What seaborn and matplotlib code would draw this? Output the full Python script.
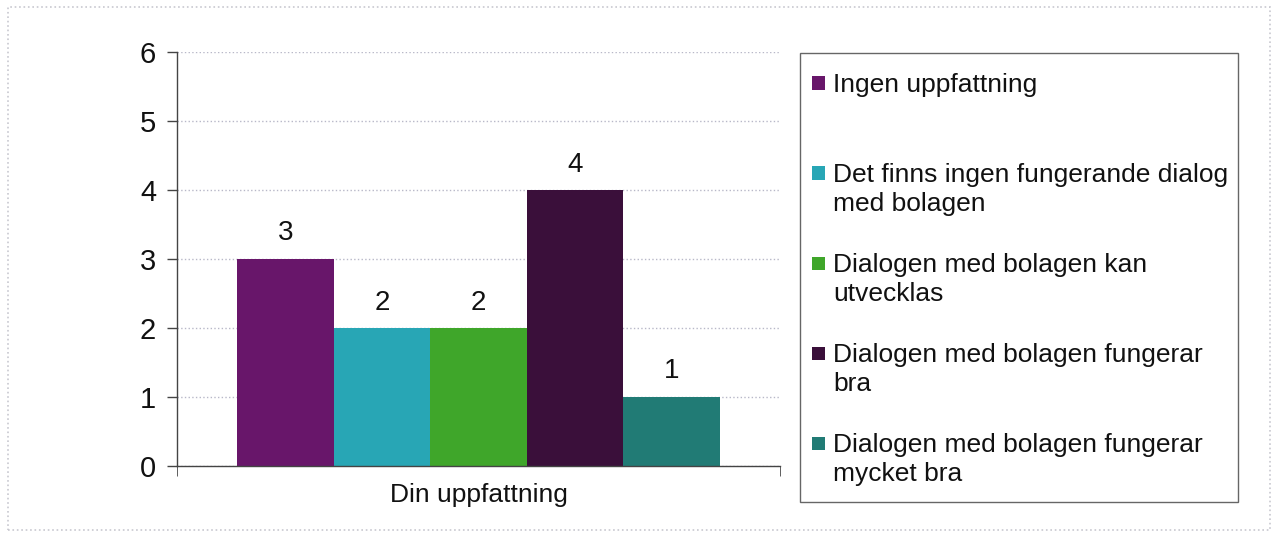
import pandas as pd
import matplotlib.pyplot as plt
import matplotlib.patches as mpatches
import seaborn as sns

# data
question = ['Din uppfattning']
answers = [
    'Ingen uppfattning',
    'Det finns ingen fungerande dialog\nmed bolagen',
    'Dialogen med bolagen kan\nutvecklas',
    'Dialogen med bolagen fungerar\nbra',
    'Dialogen med bolagen fungerar\nmycket bra',
]
counts = [3, 2, 2, 4, 1]
colors = ['#68166a', '#28a6b5', '#3fa62a', '#3a0f3a', '#217b75']
y_ticks = [0, 1, 2, 3, 4, 5, 6]

W, H = 1277, 537


def draw_legend(fig):
    """ Legend drawn by hand so every entry sits on the same spacing, like the original. """
    fig.patches.append(mpatches.Rectangle((800 / W, 1 - 502 / H), 438 / W, 449 / H,
                                          transform=fig.transFigure, fill=False,
                                          edgecolor='#666666', linewidth=1))
    top, step, sq = 83, 90, 13
    for i, (lab, col) in enumerate(zip(answers, colors)):
        yc = top + i * step
        fig.patches.append(mpatches.Rectangle((812 / W, 1 - (yc + sq / 2) / H), sq / W, sq / H,
                                              transform=fig.transFigure, facecolor=col,
                                              edgecolor='none'))
        fig.text(833 / W, 1 - (yc - 10) / H, lab, fontsize=19, va='top', ha='left',
                 color='#111111', linespacing=1.28)


def plot_answers(df):
    """ Grouped bar chart with value labels and a framed legend on the right. """
    sns.set_style('white')
    plt.rcParams['font.family'] = ['Liberation Sans', 'DejaVu Sans']

    fig = plt.figure(figsize=(W / 100, H / 100), dpi=100)
    ax = fig.add_axes([177 / W, 1 - 466 / H, 603 / W, 414 / H])

    sns.barplot(data=df, x='fraga', y='antal', hue='svar', palette=colors,
                saturation=1, width=0.8, legend=False, linewidth=0, ax=ax)

    # numbers above the bars
    for cont in ax.containers:
        ax.bar_label(cont, fmt='%d', padding=9, fontsize=20, color='#111111')

    ax.set_ylim(0, 6)
    ax.set_xlim(-0.5, 0.5)
    ax.set_yticks(y_ticks)
    ax.tick_params(axis='y', labelsize=21, length=7, width=1, color='#444444',
                   direction='out', left=True, pad=8, labelcolor='#111111')
    ax.tick_params(axis='x', labelsize=19, length=0, pad=12, labelcolor='#111111')
    ax.set_xticks([-0.5, 0.5], minor=True)
    ax.tick_params(axis='x', which='minor', length=7, color='#444444', bottom=True)
    ax.set_xlabel('')
    ax.set_ylabel('')
    ax.grid(axis='y', linestyle=':', color='#b8b8c8', linewidth=1)
    ax.set_axisbelow(True)
    for side in ['top', 'right']:
        ax.spines[side].set_visible(False)
    for side in ['left', 'bottom']:
        ax.spines[side].set_color('#444444')
        ax.spines[side].set_linewidth(1)

    draw_legend(fig)

    # light dotted border round the whole picture
    fig.patches.append(mpatches.Rectangle((8 / W, 7 / H), 1262 / W, 523 / H,
                                          transform=fig.transFigure, fill=False,
                                          edgecolor='#c8c8d0', linestyle=':', linewidth=1.2))

    fig.savefig('out.png', dpi=100)


def main():
    df = pd.DataFrame({'fraga': question * len(answers), 'svar': answers, 'antal': counts})
    plot_answers(df)


if __name__ == "__main__":
    main()
